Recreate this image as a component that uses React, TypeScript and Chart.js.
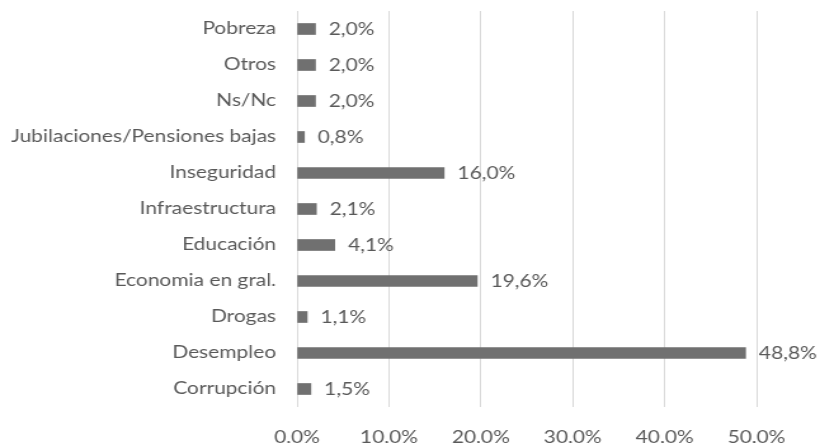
import React, { useEffect, useRef } from "react";
import { Chart, registerables } from "chart.js";

Chart.register(...registerables);

const categories = [
  "Pobreza",
  "Otros",
  "Ns/Nc",
  "Jubilaciones/Pensiones bajas",
  "Inseguridad",
  "Infraestructura",
  "Educación",
  "Economia en gral.",
  "Drogas",
  "Desempleo",
  "Corrupción",
];
const values = [2.0, 2.0, 2.0, 0.8, 16.0, 2.1, 4.1, 19.6, 1.1, 48.8, 1.5];
const axisMin = 0;
const axisMax = 50;
const axisStep = 10;

// The reference image is horizontally stretched; draw on a narrower canvas and stretch it.
const DISPLAY_W = 820;
const DISPLAY_H = 443;
const INTERNAL_W = 646;

const FONT_FAMILY = "Lato, 'Open Sans', sans-serif";
const FONT_SIZE = 16.5;
const TEXT_COLOR = "#595959";
const BAR_COLOR = "#707070";

const fmt = (v: number) => v.toFixed(1).replace(".", ",") + "%";

const valueLabels = {
  id: "valueLabels",
  afterDatasetsDraw(chart: any) {
    const ctx = chart.ctx;
    const meta = chart.getDatasetMeta(0);
    ctx.save();
    ctx.font = `${FONT_SIZE}px ${FONT_FAMILY}`;
    ctx.fillStyle = TEXT_COLOR;
    ctx.textAlign = "left";
    ctx.textBaseline = "middle";
    meta.data.forEach((el: any, i: number) => {
      ctx.fillText(fmt(values[i]), el.x + 10.5, el.y + 1);
    });
    ctx.restore();
  },
};

export default function App() {
  const ref = useRef<HTMLCanvasElement | null>(null);
  useEffect(() => {
    if (!ref.current) return;
    const chart = new Chart(ref.current, {
      type: "bar",
      data: {
        labels: categories,
        datasets: [
          {
            data: values,
            backgroundColor: BAR_COLOR,
            barThickness: 11,
          },
        ],
      },
      options: {
        indexAxis: "y",
        animation: false,
        responsive: false,
        maintainAspectRatio: false,
        devicePixelRatio: 1,
        layout: { padding: { top: 11, right: 50, left: 0, bottom: 0 } },
        plugins: {
          legend: { display: false },
          tooltip: { enabled: false },
        },
        scales: {
          x: {
            min: axisMin,
            max: axisMax,
            grid: { color: "#d9d9d9", drawTicks: false, lineWidth: 1 },
            border: { display: false },
            ticks: {
              stepSize: axisStep,
              padding: 21,
              color: TEXT_COLOR,
              font: { family: FONT_FAMILY, size: FONT_SIZE },
              callback: (v: any) => fmt(Number(v)),
            },
            afterFit: (s: any) => {
              s.height = 36;
            },
          },
          y: {
            grid: { display: false, drawTicks: false },
            border: { display: false },
            ticks: {
              padding: 16.5,
              color: TEXT_COLOR,
              font: { family: FONT_FAMILY, size: FONT_SIZE },
            },
            afterFit: (s: any) => {
              s.width = 234;
              s.paddingTop = 0;
              s.paddingBottom = 0;
            },
          },
        },
      },
      plugins: [valueLabels],
    });
    return () => chart.destroy();
  }, []);
  return (
    <div style={{ position: "absolute", left: 0, top: 0, width: DISPLAY_W, height: DISPLAY_H, background: "#fff" }}>
      <canvas
        ref={ref}
        width={INTERNAL_W}
        height={DISPLAY_H}
        style={{ display: "block", width: DISPLAY_W, height: DISPLAY_H }}
      />
    </div>
  );
}
